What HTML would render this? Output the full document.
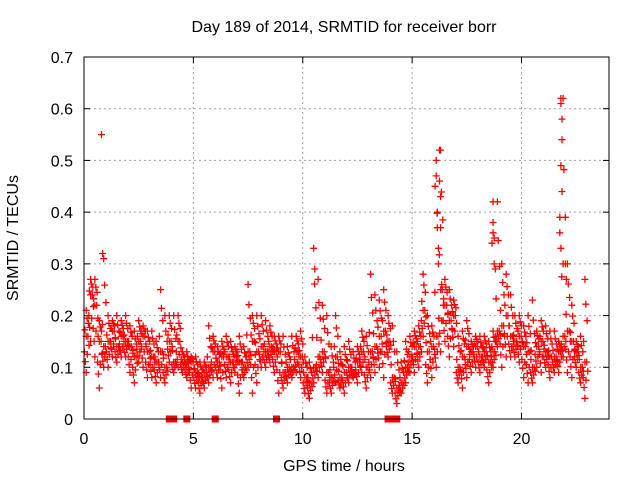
<!DOCTYPE html>
<html><head><meta charset="utf-8"><style>
body{margin:0;background:#fff;}
svg text{font-family:"Liberation Sans",sans-serif;fill:#000;}
</style></head><body>
<svg id="chart" width="640" height="480" viewBox="0 0 640 480">
<rect width="640" height="480" fill="#fff"/>
<text x="344" y="32" font-size="16" text-anchor="middle">Day 189 of 2014, SRMTID for receiver borr</text>
<text x="18" y="238" font-size="16" text-anchor="middle" transform="rotate(-90 18 238)">SRMTID / TECUs</text>
<text x="344" y="471" font-size="16" text-anchor="middle">GPS time / hours</text>
<g id="grid"></g>
<g id="marks"></g>
<rect x="84" y="57" width="525" height="362" fill="none" stroke="#000" stroke-width="1"/>
</svg>
<script>
const xTicks=[0,5,10,15,20];
const yTicks=[0,0.1,0.2,0.3,0.4,0.5,0.6,0.7];
const times=[0.1,0.3,0.5,0.7,0.9,1.1,1.3,1.5,1.7,1.9,2.1,2.3,2.5,2.7,2.9,3.1,3.3,3.5,3.7,3.9,4.1,4.3,4.5,4.7,4.9,5.1,5.3,5.5,5.7,5.9,6.1,6.3,6.5,6.7,6.9,7.1,7.3,7.5,7.7,7.9,8.1,8.3,8.5,8.7,8.9,9.1,9.3,9.5,9.7,9.9,10.1,10.3,10.5,10.7,10.9,11.1,11.3,11.5,11.7,11.9,12.1,12.3,12.5,12.7,12.9,13.1,13.3,13.5,13.7,13.9,14.1,14.3,14.5,14.7,14.9,15.1,15.3,15.5,15.7,15.9,16.1,16.3,16.5,16.7,16.9,17.1,17.3,17.5,17.7,17.9,18.1,18.3,18.5,18.7,18.9,19.1,19.3,19.5,19.7,19.9,20.1,20.3,20.5,20.7,20.9,21.1,21.3,21.5,21.7,21.9,22.1,22.3,22.5,22.7,22.9];
const valuesMid=[.16,.24,.22,.15,.14,.15,.17,.14,.16,.15,.14,.12,.15,.16,.13,.12,.11,.13,.10,.15,.11,.15,.11,.10,.11,.09,.08,.09,.10,.13,.11,.12,.12,.11,.12,.11,.10,.13,.15,.13,.14,.13,.14,.13,.13,.09,.10,.10,.13,.12,.08,.07,.10,.12,.13,.09,.08,.12,.08,.09,.10,.09,.11,.13,.10,.13,.14,.16,.17,.15,.08,.06,.07,.10,.12,.14,.14,.21,.13,.14,.16,.25,.22,.19,.20,.10,.12,.14,.13,.14,.12,.13,.11,.13,.17,.18,.20,.16,.15,.16,.14,.13,.10,.14,.15,.13,.12,.12,.13,.16,.17,.15,.13,.10,.11];
const valuesHigh=[.21,.27,.27,.19,.31,.20,.19,.20,.19,.20,.18,.17,.19,.18,.17,.17,.15,.25,.20,.20,.20,.20,.13,.13,.12,.12,.11,.11,.18,.16,.14,.15,.16,.15,.14,.16,.14,.26,.20,.20,.20,.19,.18,.16,.16,.16,.14,.16,.16,.17,.12,.11,.33,.27,.22,.20,.14,.20,.13,.14,.15,.13,.14,.17,.16,.28,.24,.23,.25,.20,.18,.13,.11,.15,.16,.17,.18,.28,.20,.18,.50,.52,.27,.25,.23,.16,.17,.19,.15,.16,.16,.16,.15,.17,.42,.30,.28,.24,.20,.20,.18,.20,.23,.17,.19,.18,.17,.17,.15,.62,.30,.22,.15,.16,.27];
const valuesLow=[.09,.15,.12,.06,.10,.10,.12,.11,.12,.12,.09,.07,.11,.10,.08,.08,.07,.08,.07,.11,.09,.10,.09,.08,.06,.06,.05,.06,.07,.08,.08,.06,.08,.07,.09,.05,.08,.10,.05,.07,.10,.10,.11,.09,.05,.06,.07,.08,.09,.08,.05,.04,.07,.08,.09,.05,.05,.07,.06,.05,.07,.08,.07,.09,.06,.08,.09,.10,.08,.12,.05,.03,.05,.07,.09,.09,.10,.16,.07,.08,.10,.13,.15,.12,.14,.07,.06,.08,.09,.10,.09,.10,.07,.10,.14,.10,.12,.12,.12,.11,.08,.07,.07,.10,.09,.10,.08,.09,.09,.12,.09,.08,.10,.07,.04];
const spikeTimes=[0.8,0.85,0.9,10.5,10.55,16.05,16.1,16.1,16.15,16.15,16.2,16.2,16.25,16.25,16.3,16.3,16.35,18.65,18.7,18.7,18.7,18.75,18.75,18.8,21.75,21.8,21.8,21.85,21.85,21.8,21.85,21.75,21.8,21.9,22.0,22.05];
const spikeValues=[.55,.32,.31,.33,.29,.45,.50,.47,.40,.37,.33,.30,.52,.46,.43,.37,.26,.34,.42,.38,.36,.35,.30,.29,.39,.62,.61,.58,.54,.49,.44,.36,.33,.30,.30,.27];
const zeroTimes=[3.9,4.1,4.7,6.0,8.8,13.9,14.0,14.1,14.2,14.3];

const NS="http://www.w3.org/2000/svg";
const L=84,R=609,T=57,B=419,XMAX=24,YMAX=0.7;
function xs(v){return L+(v/XMAX)*(R-L);}
function ys(v){return B-(v/YMAX)*(B-T);}
const grid=document.getElementById('grid');
const marks=document.getElementById('marks');
function mk(tag,attrs,parent){const e=document.createElementNS(NS,tag);for(const k in attrs)e.setAttribute(k,attrs[k]);parent.appendChild(e);return e;}
xTicks.forEach(t=>{
  const x=xs(t);
  if(t>0){const g=mk('line',{x1:x,y1:T,x2:x,y2:B,stroke:'#a0a0a0','stroke-dasharray':'2,3'},grid);
  
  }
  mk('line',{x1:x,y1:B,x2:x,y2:B-6,stroke:'#000'},grid);
  mk('line',{x1:x,y1:T,x2:x,y2:T+6,stroke:'#000'},grid);
  const lb=mk('text',{x:x,y:B+25,'font-size':16,'text-anchor':'middle'},grid);
  lb.textContent=t;
  
  
});
yTicks.forEach(t=>{
  const y=ys(t);
  if(t>0&&t<0.7){const g=mk('line',{x1:L,y1:y,x2:R,y2:y,stroke:'#a0a0a0','stroke-dasharray':'2,3'},grid);
  
  }
  mk('line',{x1:L,y1:y,x2:L+6,y2:y,stroke:'#000'},grid);
  mk('line',{x1:R,y1:y,x2:R-6,y2:y,stroke:'#000'},grid);
  const lb=mk('text',{x:L-11,y:y+6,'font-size':16,'text-anchor':'end'},grid);
  lb.textContent=t===0?'0':t.toFixed(1);
  
  
});
let d='';
function plus(t,v){const x=xs(t),y=ys(v);d+=`M${(x-3.5).toFixed(1)} ${y.toFixed(1)}h7M${x.toFixed(1)} ${(y-3.5).toFixed(1)}v7`;}
times.forEach((t,i)=>{
  const m=valuesMid[i],h=valuesHigh[i],l=valuesLow[i];
  plus(t,m);plus(t,h);plus(t,l);
  plus(t+0.1,(m+h)/2);plus(t+0.05,(m+l)/2);
  plus(t-0.06,m+(h-m)*0.25);plus(t+0.04,m+(h-m)*0.7);
  plus(t-0.04,l+(m-l)*0.3);plus(t+0.13,l+(m-l)*0.75);
  plus(t+0.08,m);plus(t-0.08,(m+l)/2+0.005);
});
spikeTimes.forEach((t,i)=>plus(t,spikeValues[i]));
const p=mk('path',{d:d,stroke:'#ff0000','stroke-width':1.3,fill:'none'},marks);


zeroTimes.forEach(t=>{
  const r=mk('rect',{x:xs(t)-3.5,y:B-3.5,width:7,height:7,fill:'#ff0000'},marks);
  
  
});
</script>
</body></html>
